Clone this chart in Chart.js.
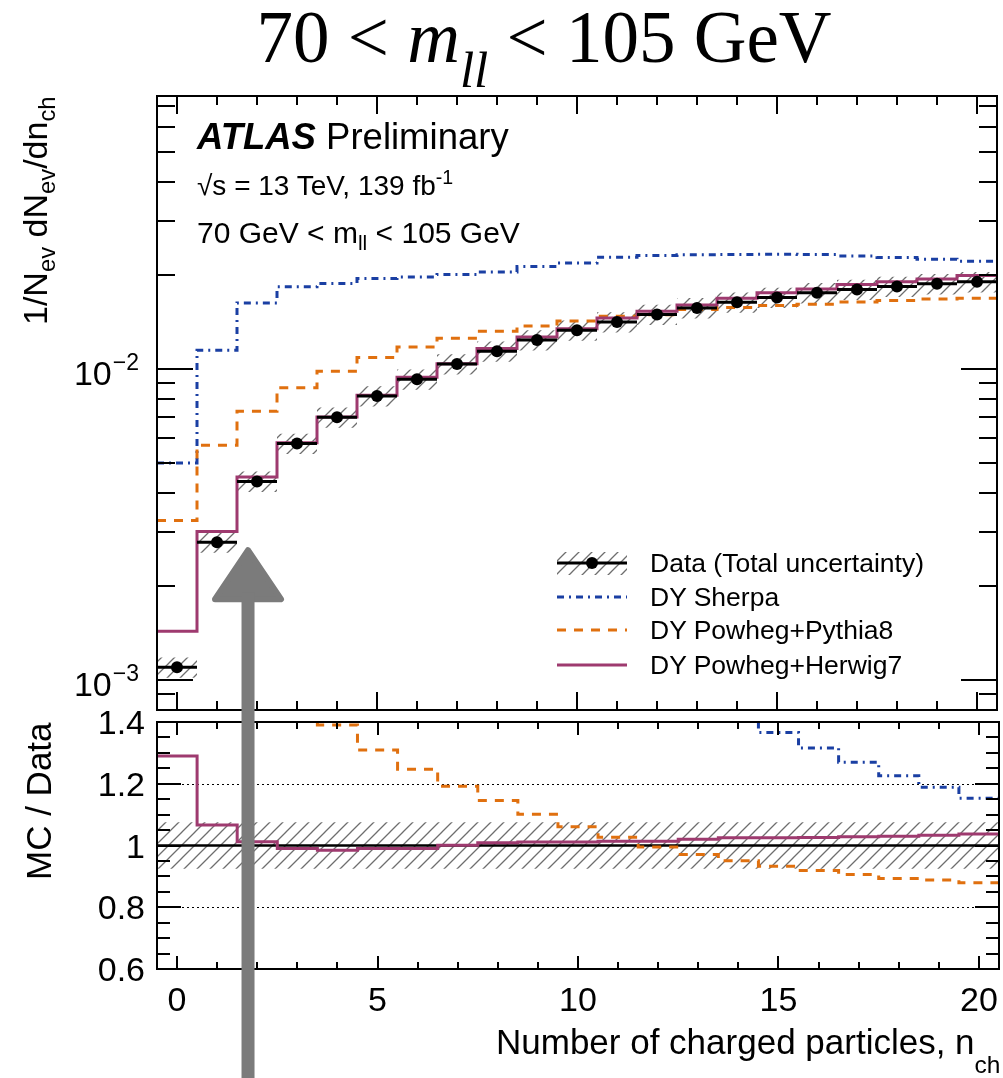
<!DOCTYPE html>
<html>
<head>
<meta charset="utf-8">
<title>Charged-particle multiplicity, 70 &lt; mll &lt; 105 GeV</title>
<script src="https://cdn.jsdelivr.net/npm/chart.js@4.4.1/dist/chart.umd.min.js"></script>
<style>
  html, body { margin: 0; padding: 0; background: #fff; overflow: hidden; }
  #page { position: relative; width: 1003px; height: 1078px; overflow: hidden;
          font-family: "Liberation Sans", Arial, Helvetica, sans-serif; color: #000; }
  #page canvas { position: absolute; left: 0; top: 0; }
  .txt { position: absolute; white-space: nowrap; line-height: 1; }
  .txt sub, .txt sup { font-size: 70%; vertical-align: baseline; position: relative; line-height: 0; }
  .txt sub { top: 0.35em; }
  .txt sup { top: -0.6em; }
  .rot { transform-origin: 0 0; transform: rotate(-90deg); }
  #title { font-family: "Liberation Serif", "Times New Roman", serif; }
  #title sub { top: 0.5em; }
  #xtitle sub { top: 0.75em; }
</style>
</head>
<body>
<div id="page">
  <canvas id="upper" width="1003" height="1078"></canvas>
  <canvas id="lower" width="1003" height="1078"></canvas>
  <div id="title" class="txt">70 &lt; <i>m</i><sub><i>ll</i></sub> &lt; 105 GeV</div>
  <div id="atlas" class="txt"><b><i>ATLAS</i></b> Preliminary</div>
  <div id="lumi" class="txt">&radic;s = 13 TeV, 139 fb<sup>-1</sup></div>
  <div id="mll" class="txt">70 GeV &lt; m<sub>ll</sub> &lt; 105 GeV</div>
  <div id="ytitle" class="txt rot">1/N<sub>ev</sub> dN<sub>ev</sub>/dn<sub>ch</sub></div>
  <div id="rtitle" class="txt rot">MC / Data</div>
  <div id="xtitle" class="txt">Number of charged particles, n<sub>ch</sub></div>
  <div id="legend"></div>
</div>
<script>
// bins (number of charged particles)
const nch = [0, 1, 2, 3, 4, 5, 6, 7, 8, 9, 10, 11, 12, 13, 14, 15, 16, 17, 18, 19, 20];

// 1/Nev dNev/dnch
const dataVals = [0.001098, 0.002773, 0.004349, 0.005754, 0.006991, 0.008186, 0.009265, 0.01038, 0.01140, 0.01240, 0.01332,
                  0.01417, 0.01496, 0.01572, 0.01639, 0.01698, 0.01757, 0.01802, 0.01842, 0.01878, 0.01906];
// relative total uncertainty of data
const dataUnc = [0.075, 0.075, 0.075, 0.075, 0.075, 0.075, 0.075, 0.075, 0.075, 0.075, 0.075,
                 0.075, 0.075, 0.075, 0.075, 0.075, 0.075, 0.075, 0.075, 0.075, 0.075];
const sherpaVals = [0.004981, 0.01148, 0.01631, 0.01837, 0.01884, 0.01954, 0.01977, 0.02013, 0.02052, 0.02137, 0.02190,
                    0.02289, 0.02318, 0.02328, 0.02335, 0.02340, 0.02335, 0.02310, 0.02283, 0.02254, 0.02221];
const pythiaVals = [0.003258, 0.005679, 0.007306, 0.008707, 0.009829, 0.01088, 0.01177, 0.01255, 0.01322, 0.01375, 0.01427,
                    0.01478, 0.01495, 0.01553, 0.01576, 0.01600, 0.01615, 0.01643, 0.01660, 0.01680, 0.01689];
const herwigVals = [0.001434, 0.003003, 0.004490, 0.005794, 0.007007, 0.008228, 0.009404, 0.01040, 0.01163, 0.01268, 0.01346,
                    0.01459, 0.01534, 0.01607, 0.01689, 0.01757, 0.01809, 0.01870, 0.01906, 0.01948, 0.01997];

// MC / Data
const sherpaRatio = [4.5, 4.1, 3.75, 3.19, 2.69, 2.39, 2.13, 1.94, 1.80, 1.72, 1.64,
                     1.61, 1.55, 1.48, 1.43, 1.366, 1.316, 1.270, 1.226, 1.189, 1.153];
const pythiaRatio = [2.97, 2.05, 1.68, 1.51, 1.39, 1.309, 1.247, 1.192, 1.146, 1.101, 1.061,
                     1.027, 0.995, 0.971, 0.951, 0.933, 0.919, 0.906, 0.893, 0.888, 0.879];
const herwigRatio = [1.290, 1.066, 1.012, 0.990, 0.985, 0.990, 0.990, 1.001, 1.009, 1.011, 1.011,
                     1.014, 1.014, 1.020, 1.025, 1.025, 1.026, 1.028, 1.030, 1.033, 1.037];

// axes
const xMin = -0.5, xMax = 20.5;
const yMinUp = 0.0008, yMaxUp = 0.0755;
const yMinLo = 0.6, yMaxLo = 1.4;
const xTicks = [0, 5, 10, 15, 20];
const xTickLabels = ['0', '5', '10', '15', '20'];
const yLogTicks = [0.001, 0.01];
const yLogTickLabels = [['10', '\u22123'], ['10', '\u22122']];
const yRatioTicks = [0.6, 0.8, 1.0, 1.2, 1.4];
const yRatioTickLabels = ['0.6', '0.8', '1', '1.2', '1.4'];
const ratioGuides = [0.8, 1.2, 1.4];

const seriesNames = ['Data (Total uncertainty)', 'DY Sherpa', 'DY Powheg+Pythia8', 'DY Powheg+Herwig7'];

// hand-drawn arrow annotation
const arrowX = 1.77, arrowTip = 0.00267;

const C_SHERPA = '#1a3fa3';
const C_PYTHIA = '#e0700f';
const C_HERWIG = '#9e3a6f';
const C_HATCH = '#6e6e6e';
const DASH_SHERPA = [7, 5, 2, 5];
const DASH_PYTHIA = [9, 8];
const FONT = '"Liberation Sans", Arial, Helvetica, sans-serif';

const steps = vals => vals.flatMap((v, i) => [{ x: nch[i] - 0.5, y: v }, { x: nch[i] + 0.5, y: v }]);
const bars = vals => vals.flatMap((v, i) => [{ x: nch[i] - 0.5, y: v }, { x: nch[i] + 0.5, y: v }, { x: nch[i] + 0.5, y: null }]);

function hatchPattern(ctx) {
  const tile = document.createElement('canvas');
  tile.width = 13; tile.height = 13;
  const g = tile.getContext('2d');
  g.strokeStyle = C_HATCH;
  g.lineWidth = 1.3;
  g.beginPath();
  g.moveTo(-1, 14); g.lineTo(14, -1);
  g.moveTo(-1, 1); g.lineTo(1, -1);
  g.moveTo(12, 14); g.lineTo(14, 12);
  g.stroke();
  return ctx.createPattern(tile, 'repeat');
}

function lineDs(label, data, color, dash, order, width) {
  return { label, data, borderColor: color, borderWidth: width || 3, borderDash: dash, pointRadius: 0,
           tension: 0, fill: false, clip: 0, order, spanGaps: false, borderCapStyle: 'butt', borderJoinStyle: 'miter' };
}
function bandDs(label, data, fillTo, pattern, order) {
  return { label, data, borderColor: 'rgba(0,0,0,0)', borderWidth: 1, pointRadius: 0, tension: 0,
           fill: fillTo, backgroundColor: pattern, clip: 0, order };
}

// frame with inward ticks on all four sides
function drawFrame(chart, t) {
  const { ctx, chartArea: a, scales: { x, y } } = chart;
  ctx.save();
  ctx.strokeStyle = '#000';
  ctx.lineWidth = 2;
  ctx.beginPath();
  for (let v = Math.ceil(xMin); v <= xMax; v++) {
    const px = Math.round(x.getPixelForValue(v));
    const len = xTicks.includes(v) ? t.xMajor : t.xMinor;
    ctx.moveTo(px, a.bottom); ctx.lineTo(px, a.bottom - len);
    ctx.moveTo(px, a.top); ctx.lineTo(px, a.top + len);
  }
  t.yMinor.forEach(v => {
    const py = Math.round(y.getPixelForValue(v));
    ctx.moveTo(a.left, py); ctx.lineTo(a.left + t.yMinorLen, py);
    ctx.moveTo(a.right, py); ctx.lineTo(a.right - t.yMinorLen, py);
  });
  t.yMajor.forEach(v => {
    const py = Math.round(y.getPixelForValue(v));
    ctx.moveTo(a.left, py); ctx.lineTo(a.left + t.yMajorLen, py);
    ctx.moveTo(a.right, py); ctx.lineTo(a.right - t.yMajorLen, py);
  });
  ctx.stroke();
  ctx.strokeRect(a.left, a.top, a.right - a.left, a.bottom - a.top);
  ctx.restore();
}

const upperMinor = [];
[0.0001, 0.001, 0.01].forEach(d => { for (let m = 2; m <= 9; m++) { const v = m * d; if (v >= yMinUp && v <= yMaxUp) upperMinor.push(v); } });
const lowerMinor = [];
for (let k = 12; k <= 28; k++) lowerMinor.push(k * 0.05);

const legendRows = [563, 597, 630, 665];

const upperDecor = {
  id: 'upperDecor',
  afterDatasetsDraw(chart) {
    drawFrame(chart, { xMajor: 18, xMinor: 9, yMajor: yLogTicks, yMinor: upperMinor, yMajorLen: 36, yMinorLen: 18 });
    const { ctx, scales: { y } } = chart;
    ctx.save();
    ctx.fillStyle = '#000';
    ctx.textAlign = 'right';
    yLogTicks.forEach((v, i) => {
      const py = y.getPixelForValue(v);
      ctx.font = '23px ' + FONT;
      const supW = ctx.measureText(yLogTickLabels[i][1]).width;
      ctx.fillText(yLogTickLabels[i][1], 139, py + 1);
      ctx.font = '34px ' + FONT;
      ctx.fillText(yLogTickLabels[i][0], 139 - supW - 1, py + 16);
    });
    // legend samples
    const x0 = 557, x1 = 627;
    ctx.fillStyle = chart.$hatch;
    ctx.fillRect(x0, legendRows[0] - 11, x1 - x0, 23);
    ctx.strokeStyle = '#000'; ctx.lineWidth = 3;
    ctx.beginPath(); ctx.moveTo(x0, legendRows[0]); ctx.lineTo(x1, legendRows[0]); ctx.stroke();
    ctx.fillStyle = '#000';
    ctx.beginPath(); ctx.arc((x0 + x1) / 2, legendRows[0], 6, 0, Math.PI * 2); ctx.fill();
    [[C_SHERPA, DASH_SHERPA], [C_PYTHIA, DASH_PYTHIA], [C_HERWIG, []]].forEach((s, i) => {
      ctx.strokeStyle = s[0]; ctx.setLineDash(s[1]);
      ctx.beginPath(); ctx.moveTo(x0, legendRows[i + 1]); ctx.lineTo(x1, legendRows[i + 1]); ctx.stroke();
    });
    ctx.restore();
  }
};

const upCanvas = document.getElementById('upper');
const hatchUp = hatchPattern(upCanvas.getContext('2d'));

const upperChart = new Chart(upCanvas, {
  type: 'line',
  data: {
    datasets: [
      bandDs('data band low', steps(dataVals.map((v, i) => v * (1 - dataUnc[i]))), false, 'transparent', 11),
      bandDs('data band high', steps(dataVals.map((v, i) => v * (1 + dataUnc[i]))), '-1', hatchUp, 10),
      lineDs(seriesNames[1], steps(sherpaVals), C_SHERPA, DASH_SHERPA, 4),
      lineDs(seriesNames[2], steps(pythiaVals), C_PYTHIA, DASH_PYTHIA, 3),
      lineDs(seriesNames[3], steps(herwigVals), C_HERWIG, [], 2),
      lineDs('data bins', bars(dataVals), '#000', [], 1),
      { label: seriesNames[0], data: nch.map((n, i) => ({ x: n, y: dataVals[i] })), showLine: false,
        pointRadius: 6, pointBackgroundColor: '#000', pointBorderWidth: 0, clip: 0, order: 0 }
    ]
  },
  options: {
    responsive: false, animation: false, devicePixelRatio: 1, events: [],
    layout: { padding: { left: 157, right: 4, top: 96, bottom: 1078 - 710 } },
    plugins: { legend: { display: false }, tooltip: { enabled: false } },
    scales: {
      x: { type: 'linear', min: xMin, max: xMax, display: false },
      y: { type: 'logarithmic', min: yMinUp, max: yMaxUp, display: false }
    }
  },
  plugins: [{ id: 'hatchRef', beforeInit(c) { c.$hatch = hatchUp; } }, upperDecor]
});

const lowerDecor = {
  id: 'lowerDecor',
  beforeDatasetsDraw(chart) {
    const { ctx, chartArea: a, scales: { y } } = chart;
    ctx.save();
    ctx.strokeStyle = '#000'; ctx.lineWidth = 1.2; ctx.setLineDash([2, 3]);
    ratioGuides.forEach(v => {
      const py = Math.round(y.getPixelForValue(v)) + 0.5;
      ctx.beginPath(); ctx.moveTo(a.left, py); ctx.lineTo(a.right, py); ctx.stroke();
    });
    ctx.restore();
  },
  afterDatasetsDraw(chart) {
    drawFrame(chart, { xMajor: 13, xMinor: 7, yMajor: yRatioTicks, yMinor: lowerMinor, yMajorLen: 24, yMinorLen: 13 });
    const { ctx, scales: { x, y } } = chart;
    ctx.save();
    ctx.fillStyle = '#000';
    ctx.font = '34px ' + FONT;
    ctx.textAlign = 'right';
    yRatioTicks.forEach((v, i) => ctx.fillText(yRatioTickLabels[i], 145, y.getPixelForValue(v) + 12));
    ctx.textAlign = 'center';
    xTicks.forEach((v, i) => ctx.fillText(xTickLabels[i], x.getPixelForValue(v), 1011));
    ctx.restore();
  },
  afterDraw(chart) {
    const ctx = chart.ctx;
    const px = chart.scales.x.getPixelForValue(arrowX);
    const tip = upperChart.scales.y.getPixelForValue(arrowTip);
    ctx.save();
    ctx.fillStyle = '#7b7b7b'; ctx.strokeStyle = '#7b7b7b';
    ctx.lineJoin = 'round'; ctx.lineWidth = 6;
    ctx.beginPath();
    ctx.moveTo(px, tip + 3); ctx.lineTo(px + 33, tip + 52); ctx.lineTo(px - 33, tip + 52); ctx.closePath();
    ctx.fill(); ctx.stroke();
    ctx.fillRect(px - 6.5, tip + 45, 13, chart.height - tip - 45);
    ctx.restore();
  }
};

const loCanvas = document.getElementById('lower');
const hatchLo = hatchPattern(loCanvas.getContext('2d'));

new Chart(loCanvas, {
  type: 'line',
  data: {
    datasets: [
      bandDs('ratio band low', steps(dataUnc.map(u => 1 - u)), false, 'transparent', 11),
      bandDs('ratio band high', steps(dataUnc.map(u => 1 + u)), '-1', hatchLo, 10),
      lineDs('unity', [{ x: xMin, y: 1 }, { x: xMax, y: 1 }], '#000', [], 5, 2.5),
      lineDs(seriesNames[1], steps(sherpaRatio), C_SHERPA, DASH_SHERPA, 4),
      lineDs(seriesNames[2], steps(pythiaRatio), C_PYTHIA, DASH_PYTHIA, 3),
      lineDs(seriesNames[3], steps(herwigRatio), C_HERWIG, [], 2)
    ]
  },
  options: {
    responsive: false, animation: false, devicePixelRatio: 1, events: [],
    layout: { padding: { left: 157, right: 4, top: 722, bottom: 1078 - 969 } },
    plugins: { legend: { display: false }, tooltip: { enabled: false } },
    scales: {
      x: { type: 'linear', min: xMin, max: xMax, display: false },
      y: { type: 'linear', min: yMinLo, max: yMaxLo, display: false }
    }
  },
  plugins: [lowerDecor]
});

// text placement (baseline-anchored)
const ASC_SANS = 0.8465, ASC_SERIF = 0.8375;
function place(id, size, left, baseline, align, asc) {
  const el = document.getElementById(id);
  el.style.fontSize = size + 'px';
  const w = el.offsetWidth;
  const l = align === 'center' ? left - w / 2 : align === 'right' ? left - w : left;
  el.style.left = l + 'px';
  el.style.top = (baseline - (asc || ASC_SANS) * size) + 'px';
}
function placeRot(id, size, baselineX, topEnd) {
  const el = document.getElementById(id);
  el.style.fontSize = size + 'px';
  const w = el.offsetWidth;
  el.style.left = (baselineX - ASC_SANS * size) + 'px';
  el.style.top = (topEnd + w) + 'px';
}
place('title', 73, 544, 62, 'center', ASC_SERIF);
place('atlas', 36.5, 197, 150);
place('lumi', 28, 197, 196);
place('mll', 30, 197, 243);
place('xtitle', 35, 1000, 1054, 'right');
placeRot('ytitle', 34, 47, 96);
placeRot('rtitle', 35, 51, 722);

const legendBox = document.getElementById('legend');
seriesNames.forEach((name, i) => {
  const d = document.createElement('div');
  d.className = 'txt';
  d.id = 'leg' + i;
  d.textContent = name;
  legendBox.appendChild(d);
  place(d.id, 26.5, 650, legendRows[i] + 9.5);
});
</script>
</body>
</html>
